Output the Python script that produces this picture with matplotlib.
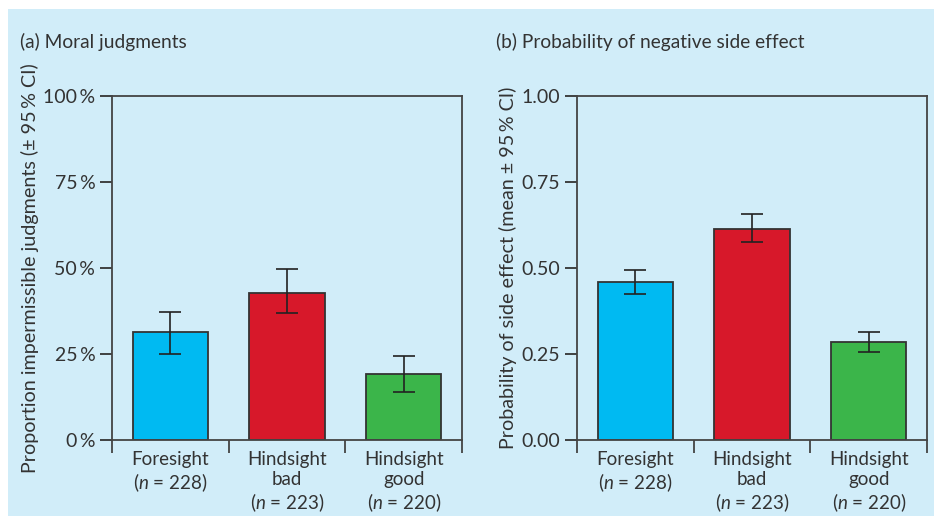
import matplotlib
matplotlib.use('Agg')
import numpy as np
from matplotlib import pyplot as plt
from matplotlib.patches import Rectangle
from matplotlib.ticker import FixedLocator

plt.rcParams['font.family'] = ['Lato', 'DejaVu Sans']
plt.rcParams['mathtext.fontset'] = 'custom'
plt.rcParams['mathtext.it'] = 'Lato:italic'
plt.rcParams['mathtext.rm'] = 'Lato'

# data
categories = ['Foresight\n($n$ = 228)', 'Hindsight\nbad\n($n$ = 223)', 'Hindsight\ngood\n($n$ = 220)']
colors = ['#00baf2', '#d7182a', '#3bb54a']

moral_vals = [31.3, 42.8, 19.2]
moral_lo = [25.1, 36.8, 13.9]
moral_hi = [37.3, 49.7, 24.5]

prob_vals = [0.459, 0.614, 0.286]
prob_lo = [0.424, 0.575, 0.255]
prob_hi = [0.493, 0.657, 0.315]

bg = '#d1edf9'
ink = '#333333'

fig = plt.figure(figsize=(9.34, 5.16), dpi=100)
fig.patch.set_facecolor('white')
fig.patches.append(Rectangle((8 / 934, 0), 1, 1 - 9 / 516, transform=fig.transFigure,
                             facecolor=bg, edgecolor='none', zorder=-5))


def panel(rect, vals, lo, hi, yticks, yticklabels, ylabel, title, title_x):
    ax = fig.add_axes(rect)
    ax.set_facecolor(bg)
    x = np.arange(len(vals))
    err = [np.array(vals) - np.array(lo), np.array(hi) - np.array(vals)]
    ax.bar(x, vals, width=0.645, color=colors, edgecolor='#333333', linewidth=1.3, zorder=2)
    ax.errorbar(x, vals, yerr=err, fmt='none', ecolor='#222222', elinewidth=1.2,
                capsize=8, capthick=1.2, zorder=3)
    ax.set_xlim(-0.5, 2.5)
    ax.set_ylim(yticks[0], yticks[-1])
    ax.set_yticks(yticks)
    ax.set_yticklabels(yticklabels)
    ax.set_xticks(x)
    ax.set_xticklabels(categories, linespacing=1.2, va='top')
    ax.xaxis.set_minor_locator(FixedLocator([-0.5, 0.5, 1.5, 2.5]))
    ax.tick_params(axis='x', which='major', length=0, pad=8, labelsize=13.5, colors=ink)
    ax.tick_params(axis='x', which='minor', length=9, width=1.3, direction='out', color='#444444')
    ax.tick_params(axis='y', length=9, width=1.3, pad=3, labelsize=14, colors=ink)
    for s in ax.spines.values():
        s.set_color('#444444')
        s.set_linewidth(1.3)
    ax.set_ylabel(ylabel, fontsize=14.2, color=ink, labelpad=3)
    fig.text(title_x, 1 - 42 / 516, title, fontsize=13.8, color=ink, va='center', ha='left')
    return ax


panel([112 / 934, 76 / 516, 350 / 934, 344 / 516], moral_vals, moral_lo, moral_hi,
      [0, 25, 50, 75, 100], ['0\u2009%', '25\u2009%', '50\u2009%', '75\u2009%', '100\u2009%'],
      'Proportion impermissible judgments (± 95\u2009% CI)', '(a) Moral judgments', 20 / 934)
panel([577 / 934, 76 / 516, 350 / 934, 344 / 516], prob_vals, prob_lo, prob_hi,
      [0, 0.25, 0.5, 0.75, 1.0], ['0.00', '0.25', '0.50', '0.75', '1.00'],
      'Probability of side effect (mean ± 95\u2009% CI)', '(b) Probability of negative side effect',
      496 / 934)

fig.savefig('out.png', dpi=100, facecolor=fig.get_facecolor())
